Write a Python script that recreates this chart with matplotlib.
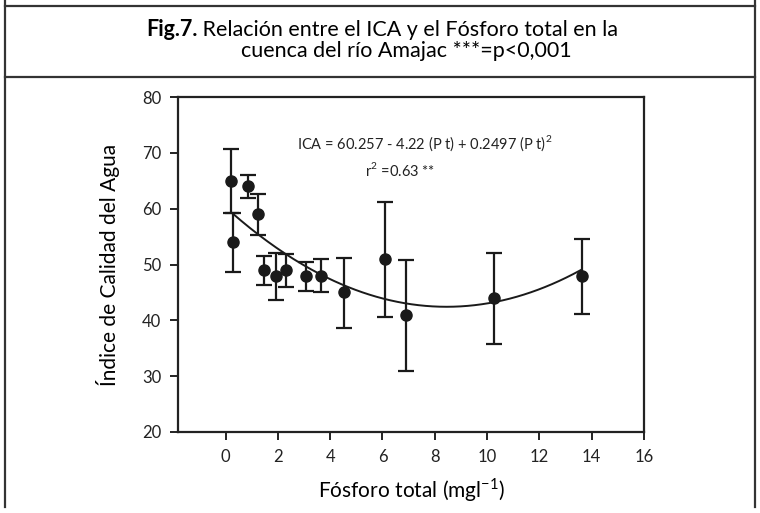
import matplotlib

matplotlib.use("Agg")
import matplotlib.pyplot as plt
import numpy as np
from matplotlib.lines import Line2D

plt.rcParams["font.family"] = ["Lato", "DejaVu Sans"]
plt.rcParams["mathtext.fontset"] = "custom"
plt.rcParams["mathtext.rm"] = "Lato"
plt.rcParams["mathtext.bf"] = "Lato:bold"

# fósforo total (mg/l), ICA medio y límites de las barras de error
fosforo = [0.21, 0.30, 0.87, 1.23, 1.48, 1.94, 2.30, 3.09, 3.65, 4.53, 6.10, 6.89, 10.26, 13.62]
ica = [65.0, 54.0, 64.0, 59.0, 49.0, 48.0, 49.0, 48.0, 48.0, 45.0, 51.0, 41.0, 44.0, 48.0]
ica_sup = [70.6, 59.3, 66.0, 62.7, 51.6, 52.1, 51.9, 50.5, 50.9, 51.1, 61.2, 50.8, 52.0, 54.5]
ica_inf = [59.3, 48.6, 62.0, 55.3, 46.3, 43.6, 46.0, 45.3, 45.0, 38.7, 40.6, 31.0, 35.7, 41.2]

# coeficientes del ajuste cuadrático
coef = [60.257, -4.22, 0.2497]

x_ticks = [0, 2, 4, 6, 8, 10, 12, 14, 16]
y_ticks = [20, 30, 40, 50, 60, 70, 80]

fig = plt.figure(figsize=(7.6, 5.13), dpi=100)
W, H = 760, 513

# marco exterior y línea bajo el título
for xs, ys in [([5, 5], [0, 507]), ([755, 755], [0, 507]), ([5, 755], [6, 6]), ([5, 755], [77, 77])]:
    fig.add_artist(Line2D([x / W for x in xs], [1 - y / H for y in ys], color="#333333", lw=1.6))

t1 = fig.text(146 / W, 1 - 30 / H, "Fig.7.", ha="left", va="center", fontsize=15.5, weight="bold")
fig.add_artist(plt.Annotation(" Relación entre el ICA y el Fósforo total en la", xy=(1, 0.5),
                              xycoords=t1, va="center", ha="left", fontsize=15.5))
fig.text(406 / W, 1 - 51 / H, "cuenca del río Amajac ***=p<0,001",
         ha="center", va="center", fontsize=15.5)

ax = fig.add_axes([178 / W, 1 - 432 / H, (644 - 178) / W, (432 - 97) / H])

yerr = [np.array(ica) - np.array(ica_inf), np.array(ica_sup) - np.array(ica)]
ax.errorbar(fosforo, ica, yerr=yerr, fmt="o", color="#1a1a1a", ms=8,
            elinewidth=1.6, capsize=6, capthick=1.6)

xs = np.linspace(min(fosforo) + 0.05, max(fosforo), 200)
ax.plot(xs, coef[0] + coef[1] * xs + coef[2] * xs ** 2, color="#1a1a1a", lw=1.4)

ax.text(7.6, 71.8, r"ICA = 60.257 - 4.22 (P t) + 0.2497 (P t)$^2$",
        ha="center", va="center", fontsize=10.5, color="#222222")
ax.text(6.67, 66.9, r"r$^2$ =0.63 **", ha="center", va="center", fontsize=10.5, color="#222222")

ax.set_xlim(-1.82, 16)
ax.set_ylim(20, 80)
ax.set_xticks(x_ticks)
ax.set_yticks(y_ticks)
ax.tick_params(direction="out", length=6, width=1.4, labelsize=12, colors="#222222", pad=6)
for s in ax.spines.values():
    s.set_linewidth(1.6)
    s.set_color("#222222")

ax.set_xlabel("Fósforo total (mgl$^{\\mathregular{-1}}$)", fontsize=15, labelpad=8)
ax.set_ylabel("Índice de Calidad del Agua", fontsize=15, labelpad=16)

fig.savefig("out.png", dpi=100)
